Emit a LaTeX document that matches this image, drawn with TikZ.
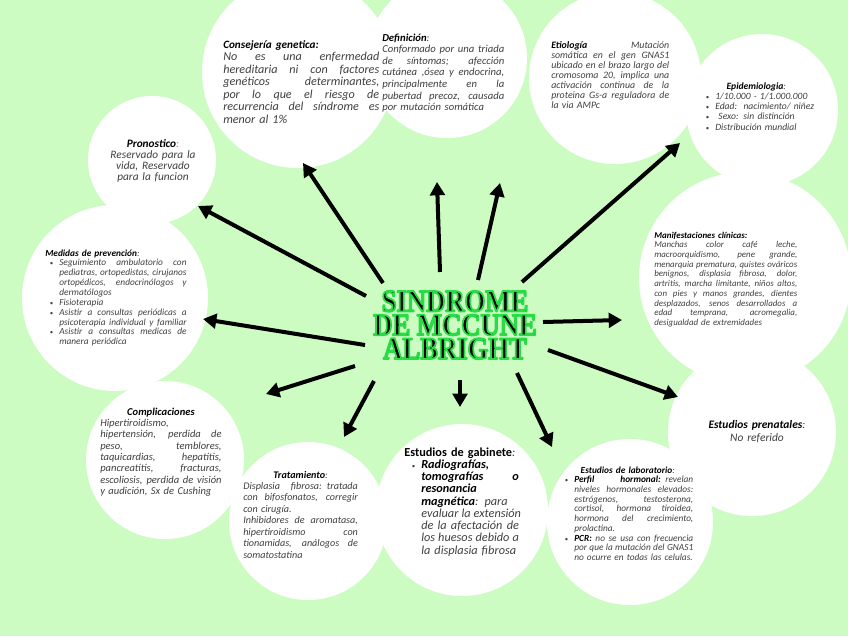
\documentclass[tikz,border=0pt]{standalone}
\usepackage{fontspec}
\setmainfont{Carlito}
\newfontfamily\titlefont[FakeStretch=0.85]{Liberation Serif}
\usetikzlibrary{arrows.meta}

\definecolor{mcBack}{HTML}{CCFCC2}
\definecolor{mcText}{HTML}{404040}
\definecolor{mcPink}{HTML}{E07070}

\lineskiplimit=-20pt
\newlength\bulw
\newcommand\hd[1]{{\color{black}\bfseries#1}}
\newcommand\hdu[1]{{\color{black}\bfseries\upshape#1}}
\newcommand\bul{\hbox to\bulw{\hss{\fontsize{5pt}{5pt}\selectfont\textbullet}\hskip4.5pt}}
\newcommand\fillsp{\spaceskip=.25em plus 1fil\relax}
% one line of a block: justified, left, centred, bullet, indented
\newcommand\lnj[1]{\hbox to\hsize{\fillsp#1}\par}
\newcommand\lnl[1]{\hbox{#1}\par}
\newcommand\lnc[1]{\hbox to\hsize{\hss#1\hss}\par}
\newcommand\lnbj[1]{\hbox to\hsize{\fillsp\bul#1}\par}
\newcommand\lnbl[1]{\hbox{\bul#1}\par}
\newcommand\lnij[1]{\hbox to\hsize{\fillsp\hskip\bulw#1}\par}
\newcommand\lnil[1]{\hbox{\hskip\bulw#1}\par}
% title letters: black fill, green stroke
\newcommand\glow[1]{\special{pdf:literal direct 0.16 0.86 0.27 RG 1.3 w 1 j 2 Tr}#1\special{pdf:literal direct 0 Tr}}

\begin{document}
\begin{tikzpicture}[
  x=0.75pt, y=-0.75pt,
  circ/.style={circle, fill=white, inner sep=0pt, minimum size=#1},
  blk/.style={anchor=base west, inner sep=0pt, text=mcText},
  sz/.style 2 args={font=\fontsize{#1pt}{#2pt}\selectfont\itshape},
  bw/.code={\setlength\bulw{#1}},
  ttl/.style={font=\titlefont\fontsize{23.5pt}{17.8pt}\selectfont\bfseries,
              align=center, inner sep=0pt},
  ray/.style={-{Triangle[length=10pt,width=11pt]}, line width=3pt}
]
  \useasboundingbox (0,0) rectangle (848,636);
  \fill[mcBack] (0,0) rectangle (848,636);

  % ---- white circles ----
  \node[circ=144pt]   (cons) at (298,72) {};
  \node[circ=120pt]   (defi) at (447,58) {};
  \node[circ=129pt]   (etio) at (615,78) {};
  \node[circ=114pt]   (epid) at (762,110) {};
  \node[circ=96pt]    (pron) at (152,160) {};
  \node[circ=139.5pt] (medi) at (115,298) {};
  \node[circ=159pt]   (mani) at (745,278) {};
  \node[circ=126pt]   (pren) at (752,432) {};
  \node[circ=118.5pt] (comp) at (165,460) {};
  \node[circ=118.5pt] (trat) at (308,521) {};
  \node[circ=129pt]   (gabi) at (462,510) {};
  \node[circ=124.5pt] (labo) at (630,522) {};

  % ---- top row ----
  \node[blk, sz={9.1}{9.4}, text width=117pt] (t-cons) at (223,48) {%
    \lnl{\fontsize{8.4pt}{9.4pt}\selectfont\hd{Consejería genetica:}}
    \lnj{No es una enfermedad}
    \lnj{hereditaria ni con factores}
    \lnj{genéticos determinantes,}
    \lnj{por lo que el riesgo de}
    \lnj{recurrencia del síndrome es}
    \lnl{menor al 1\%}};
  \node[blk, sz={8}{8.7}, text width=91.5pt] (t-defi) at (382,41) {%
    \lnl{\hd{Definición}:}
    \lnj{Conformado por una triada}
    \lnj{de síntomas; afección}
    \lnj{cutánea ,ósea y endocrina,}
    \lnj{principalmente en la}
    \lnj{pubertad precoz, causada}
    \lnl{por mutación somática}};
  \node[blk, sz={7.4}{7.5}, text width=88.5pt] (t-etio) at (551,48) {%
    \lnj{\hd{Etiología} Mutación}
    \lnj{somática en el gen GNAS1}
    \lnj{ubicado en el brazo largo del}
    \lnj{cromosoma 20, implica una}
    \lnj{activación continua de la}
    \lnj{proteina Gs-a reguladora de}
    \lnl{la via AMPc}};
  \node[blk, sz={7.2}{7.7}, text width=84pt, bw=11.25pt] (t-epid) at (700,89) {%
    \lnc{\hd{Epidemiologia}:}
    \lnbl{1/10.000 - 1/1.000.000}
    \lnbl{Edad:\ \ nacimiento/ niñez}
    \lnbl{\ Sexo: sin distinción}
    \lnbl{Distribución mundial}};

  % ---- left side ----
  \node[blk, anchor=base, sz={8.5}{8.25}, text width=75pt] (t-pron) at (153,147) {%
    \lnc{\hd{Pronostico}{\color{mcPink}:}}
    \lnc{Reservado para la}
    \lnc{vida, Reservado}
    \lnc{para la funcion}};
  \node[blk, sz={7}{7.4}, text width=106pt, bw=10.5pt] (t-medi) at (45,256) {%
    \lnl{\hd{Medidas de prevención}:}
    \lnbj{Seguimiento ambulatorio con}
    \lnij{pediatras, ortopedistas, cirujanos}
    \lnij{ortopédicos, endocrinólogos y}
    \lnil{dermatólogos}
    \lnbl{Fisioterapia}
    \lnbj{Asistir a consultas periódicas a}
    \lnij{psicoterapia individual y familiar}
    \lnbj{Asistir a consultas medicas de}
    \lnil{manera periódica}};
  \node[blk, sz={7.9}{8.5}, text width=91pt] (t-comp) at (100,415) {%
    \lnc{\hd{Complicaciones}}
    \lnl{Hipertiroidismo,}
    \lnj{hipertensión, perdida de}
    \lnj{peso, temblores,}
    \lnj{taquicardias, hepatitis,}
    \lnj{pancreatitis, fracturas,}
    \lnj{escoliosis, perdida de visión}
    \lnl{y audición, Sx de Cushing}};

  % ---- right side ----
  \node[blk, sz={6.7}{7.3}, text width=107.25pt] (t-mani) at (654,238) {%
    \lnl{\hd{Manifestaciones clínicas:}}
    \lnj{Manchas color café leche,}
    \lnj{macroorquidismo, pene grande,}
    \lnj{menarquia prematura, quistes ováricos}
    \lnj{benignos, displasia fibrosa, dolor,}
    \lnj{artritis, marcha limitante, niños altos,}
    \lnj{con pies y manos grandes, dientes}
    \lnj{desplazados, senos desarrollados a}
    \lnj{edad temprana, acromegalia,}
    \lnl{desigualdad de extremidades}};
  \node[blk, anchor=base, sz={8.6}{9.75}, text width=82.5pt] (t-pren) at (757,428) {%
    \lnc{\hd{Estudios prenatales}:}
    \lnc{No referido}};

  % ---- bottom row ----
  \node[blk, sz={7.6}{8.6}, text width=86pt] (t-trat) at (243,478) {%
    \lnc{\hd{Tratamiento}:}
    \lnj{Displasia fibrosa: tratada}
    \lnj{con bifosfonatos, corregir}
    \lnl{con cirugía.}
    \lnj{Inhibidores de aromatasa,}
    \lnj{hipertiroidismo con}
    \lnj{tionamidas, análogos de}
    \lnl{somatostatina}};
  \node[blk, sz={9.2}{9.2}, text width=86pt, bw=12.75pt] (t-gabi) at (404,456) {%
    \lnl{\hdu{Estudios de gabinete}:}
    \lnbl{\hd{Radiografías,}}
    \lnij{\hd{tomografías\hfil o}}
    \lnil{\hd{resonancia}}
    \lnij{\hd{magnética}: para}
    \lnij{evaluar la extensión}
    \lnij{de la afectación de}
    \lnij{los huesos debido a}
    \lnil{la displasia fibrosa}};
  \node[blk, sz={7}{7.3}, text width=98.25pt, bw=9pt] (t-labo) at (562,473) {%
    \lnc{\hd{Estudios de laboratorio}:}
    \lnbj{\hd{Perfil hormonal:} revelan}
    \lnij{niveles hormonales elevados:}
    \lnij{estrógenos, testosterona,}
    \lnij{cortisol, hormona tiroidea,}
    \lnij{hormona del crecimiento,}
    \lnil{prolactina.}
    \lnbj{\hd{PCR:} no se usa con frecuencia}
    \lnij{por que la mutación del GNAS1}
    \lnil{no ocurre en todas las celulas.}};

  % ---- arrows out of the title ----
  \coordinate (cons-s) at (383,283); \coordinate (cons-e) at (303,163);
  \coordinate (defi-s) at (440,272); \coordinate (defi-e) at (437,182);
  \coordinate (etio-s) at (478,280); \coordinate (etio-e) at (500,183);
  \coordinate (epid-s) at (522,282); \coordinate (epid-e) at (680,143);
  \coordinate (mani-s) at (543,322); \coordinate (mani-e) at (622,320);
  \coordinate (pren-s) at (548,350); \coordinate (pren-e) at (678,397);
  \coordinate (gabi-s) at (460,380); \coordinate (gabi-e) at (460,407);
  \coordinate (labo-s) at (517,373); \coordinate (labo-e) at (552,447);
  \coordinate (trat-s) at (374,381); \coordinate (trat-e) at (344,437);
  \coordinate (comp-s) at (355,366); \coordinate (comp-e) at (266,394);
  \coordinate (medi-s) at (365,345); \coordinate (medi-e) at (203,319);
  \coordinate (pron-s) at (366,296); \coordinate (pron-e) at (198,206);
  \foreach \n in {cons,defi,etio,epid,mani,pren,gabi,labo,trat,comp,medi,pron}
    \draw[ray] (\n-s) -- (\n-e);

  % ---- title ----
  \node[ttl] (title) at (455,325) {\glow{SINDROME}\\\glow{DE MCCUNE}\\\glow{ALBRIGHT}};
\end{tikzpicture}
\end{document}
